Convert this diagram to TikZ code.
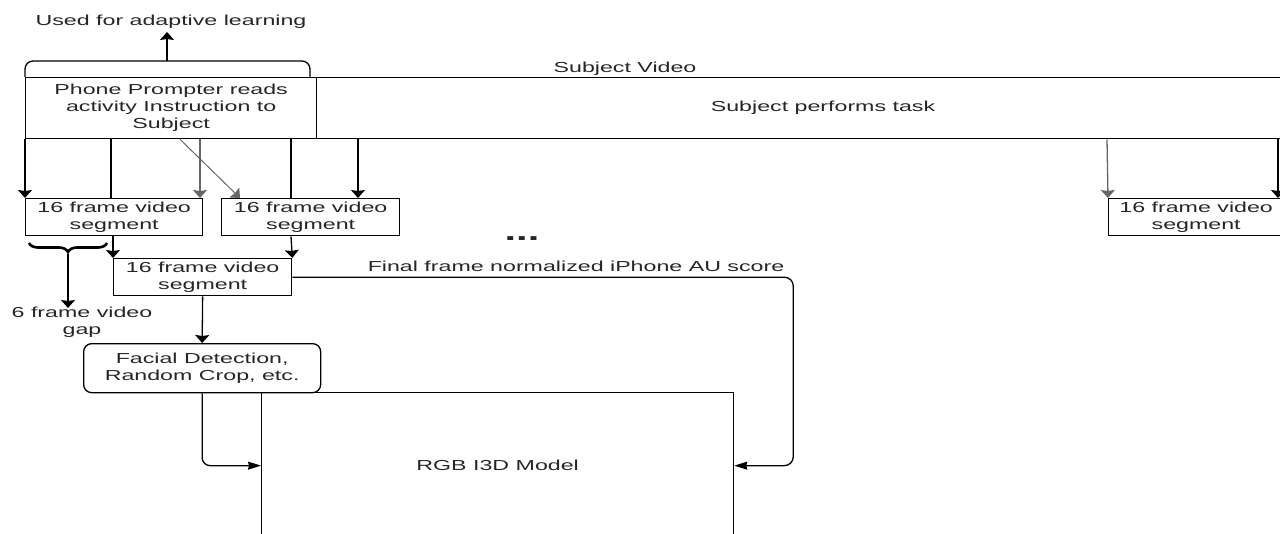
\documentclass[tikz,border=0pt]{standalone}
\usepackage{fontspec}
\setmainfont{Liberation Sans}[FakeStretch=1.6]
\usetikzlibrary{arrows.meta,decorations.pathreplacing}
\begin{document}
\begin{tikzpicture}[x=1pt,y=-1pt,
  line width=1.3pt,
  every node/.style={font=\fontsize{14.5}{17}\selectfont, text=black!85},
  box/.style={draw, rectangle, inner sep=0pt, align=center, anchor=north west},
  lbl/.style={inner sep=0pt, align=center},
  va/.style={-{Stealth[width=14pt,length=8pt,inset=1pt]}},
  ha/.style={-{Stealth[width=8pt,length=13pt,inset=1pt]}},
  grayline/.style={draw=black!60},
]
\useasboundingbox (0,0) rectangle (1280,533);
\clip (0,0) rectangle (1280,533);

% top band
\node[box, minimum width=1300pt, minimum height=61pt] (band) at (25,77) {};
\node[box, minimum width=291pt, minimum height=61pt] (prompt) at (25,77)
  {Phone Prompter reads\\activity Instruction to\\Subject};
\node[lbl] (task) at (823,108) {Subject performs task};
\node[lbl, anchor=base] (video) at (625,72) {Subject Video};

% bracket and adaptive learning
\draw[rounded corners=8pt] (prompt.north west) -- (25,61) -- (310,61) -- (310,77);
\node[lbl, anchor=base] (used) at (171,25) {Used for adaptive learning};
\coordinate (brtop) at (167,61);
\coordinate (usedarr) at (167,32);
\draw[va] (brtop) -- (usedarr);

% segments
\node[box, minimum width=177pt, minimum height=37pt] (seg1) at (25,198) {16 frame video\\segment};
\node[box, minimum width=178pt, minimum height=37pt] (seg2) at (221,198) {16 frame video\\segment};
\node[box, minimum width=178pt, minimum height=37pt] (seg3) at (113,258) {16 frame video\\segment};
\node[box, minimum width=175pt, minimum height=37pt] (seg4) at (1108,198) {16 frame video\\segment};

% arrows from band
\draw[va] (prompt.south west) -- (seg1.north west);
\draw ([xshift=86pt]prompt.south west) -- ([xshift=86pt]seg1.north west);
\draw[va, grayline] ([xshift=175pt]prompt.south west) -- ([xshift=175pt]seg1.north west);
\draw[va, grayline, line width=1pt] ([xshift=155pt]prompt.south west) -- ([xshift=19pt]seg2.north west);
\draw ([xshift=266pt]prompt.south west) -- ([xshift=70pt]seg2.north west);
\draw[va] ([xshift=333pt]band.south west) -- ([xshift=137pt]seg2.north west);
\draw[va, grayline] ([xshift=1082pt]band.south west) -- (seg4.north west);
\draw[va] ([xshift=1253pt]band.south west) -- ([xshift=170pt]seg4.north west);

% segments to seg3
\draw[va] (seg1.south west -| seg3.north west) -- (seg3.north west);
\draw[va] ([xshift=70pt]seg2.south west) -- (seg3.north east);

% dots
\node[lbl, anchor=base, font=\fontsize{26}{26}\selectfont\bfseries] (dots) at (522,240) {...};

% brace and gap
\draw[line width=2.6pt, decorate, decoration={brace, mirror, amplitude=9pt}] (29,243) -- (107,243);
\coordinate (bracetip) at (68,254);
\node[lbl] (gap) at (82,322) {6 frame video\\gap};
\coordinate (gaparr) at (68,308);
\draw[va] (bracetip) -- (gaparr);

% facial detection and model
\node[box, draw, rounded corners=8pt, minimum width=237pt, minimum height=49pt] (facial) at (83,343)
  {Facial Detection,\\Random Crop, etc.};
\node[box, minimum width=472pt, minimum height=146pt] (rgb) at (261,392) {RGB I3D Model};
\draw[va] (seg3.south) -- (facial.north);
\draw[ha, rounded corners=8pt] (facial.south) |- (rgb.west);
\draw[ha, rounded corners=9pt] (seg3.east) -| ([xshift=59pt]rgb.east) -- (rgb.east);
\node[lbl, anchor=base] (final) at (576,271) {Final frame normalized iPhone AU score};
\end{tikzpicture}
\end{document}
